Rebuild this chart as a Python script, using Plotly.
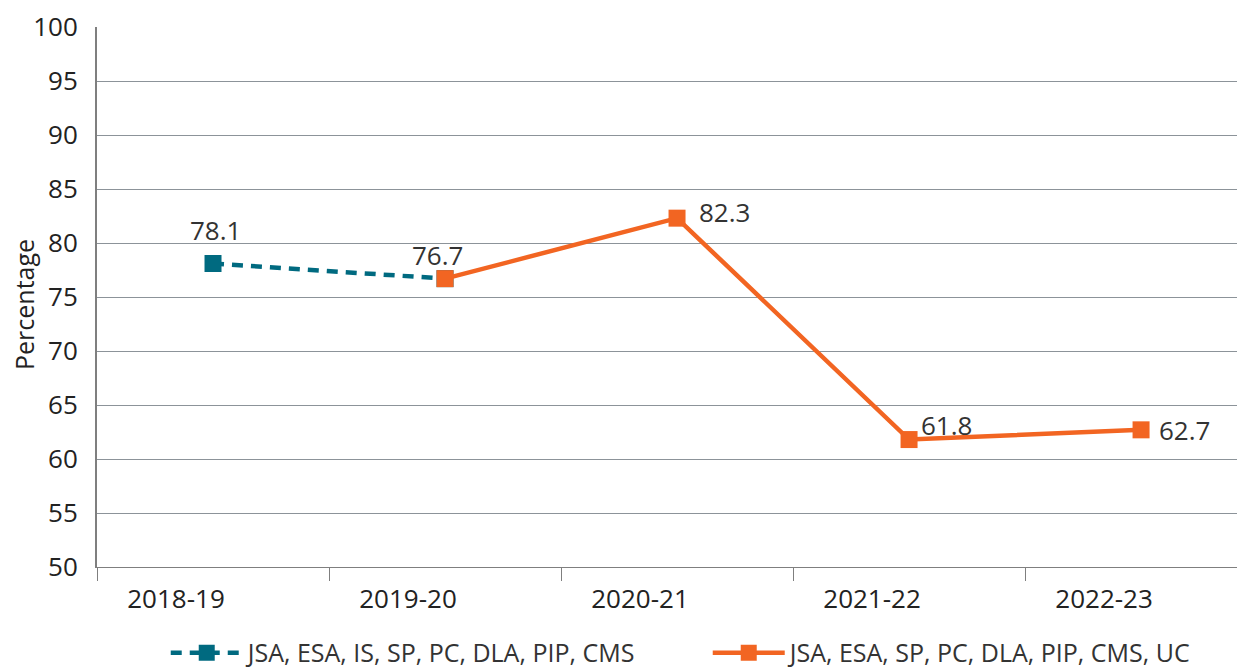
import plotly.graph_objects as go

categories = ["2018-19", "2019-20", "2020-21", "2021-22", "2022-23"]
series_old_name = "JSA, ESA, IS, SP, PC, DLA, PIP, CMS"
series_old_x = ["2018-19", "2019-20"]
series_old_y = [78.1, 76.7]
series_new_name = "JSA, ESA, SP, PC, DLA, PIP, CMS, UC"
series_new_x = ["2019-20", "2020-21", "2021-22", "2022-23"]
series_new_y = [76.7, 82.3, 61.8, 62.7]
y_ticks = [50, 55, 60, 65, 70, 75, 80, 85, 90, 95, 100]

TEAL = "#006a80"
ORANGE = "#f26522"
FONT = "Open Sans"

fig = go.Figure()
fig.add_trace(go.Scatter(
    x=series_old_x, y=series_old_y, name=series_old_name, mode="lines+markers",
    line=dict(color=TEAL, width=4.5, dash="11px,8px"),
    marker=dict(symbol="square", size=17, color=TEAL),
))
fig.add_trace(go.Scatter(
    x=series_new_x, y=series_new_y, name=series_new_name, mode="lines+markers",
    line=dict(color=ORANGE, width=4.5),
    marker=dict(symbol="square", size=17, color=ORANGE),
))

# data labels
label_offsets = {
    ("old", 0): (2, 34, "center"),
    ("new", 0): (-8, 24, "center"),
    ("new", 1): (20, 6, "left"),
    ("new", 2): (10, 15, "left"),
    ("new", 3): (16, 0, "left"),
}
for i, (x, y) in enumerate(zip(series_old_x[:1], series_old_y[:1])):
    dx, dy, al = label_offsets[("old", i)]
    fig.add_annotation(x=x, y=y, text=f"{y}", showarrow=False, xshift=dx, yshift=dy,
                       xanchor=al, font=dict(size=26, color="#333333", family=FONT))
for i, (x, y) in enumerate(zip(series_new_x, series_new_y)):
    dx, dy, al = label_offsets[("new", i)]
    fig.add_annotation(x=x, y=y, text=f"{y}", showarrow=False, xshift=dx, yshift=dy,
                       xanchor=al, font=dict(size=26, color="#333333", family=FONT))

# y axis title as annotation
fig.add_annotation(text="Percentage", xref="paper", yref="paper", x=0, y=0.5,
                   xshift=-73, yshift=-8, textangle=-90, showarrow=False,
                   xanchor="center", yanchor="middle",
                   font=dict(size=25, color="#222222", family=FONT))

fig.update_layout(
    width=1245, height=669,
    margin=dict(l=89, r=8, t=19, b=110),
    plot_bgcolor="white", paper_bgcolor="white",
    font=dict(family=FONT, size=26, color="#222222"),
    showlegend=True,
    legend=dict(orientation="h", xref="paper", x=0.532, xanchor="center",
                yref="container", y=0.036, yanchor="middle",
                font=dict(size=25, color="#333333", family="Liberation Sans Narrow, Open Sans"),
                itemwidth=72, tracegroupgap=0, entrywidth=455, bgcolor="rgba(0,0,0,0)"),
)
fig.update_xaxes(
    type="category", categoryorder="array", categoryarray=categories,
    range=[-0.5, 4.448], tickson="boundaries", ticks="outside", ticklen=13,
    tickcolor="#7f7f7f", tickwidth=1, showgrid=False, automargin=False,
    showline=True, linecolor="#7f7f7f", linewidth=1,
    ticklabelshift=-37, ticklabelstandoff=9,
    tickfont=dict(size=26, color="#222222"),
)
fig.update_yaxes(
    range=[50, 100], tickvals=y_ticks, showgrid=True, gridcolor="#8c9399", gridwidth=1,
    showline=True, linecolor="#7f7f7f", linewidth=2, ticks="", zeroline=False,
    automargin=False, ticklabelstandoff=12,
    tickfont=dict(size=26, color="#222222"),
)
fig.write_html("out.html")
